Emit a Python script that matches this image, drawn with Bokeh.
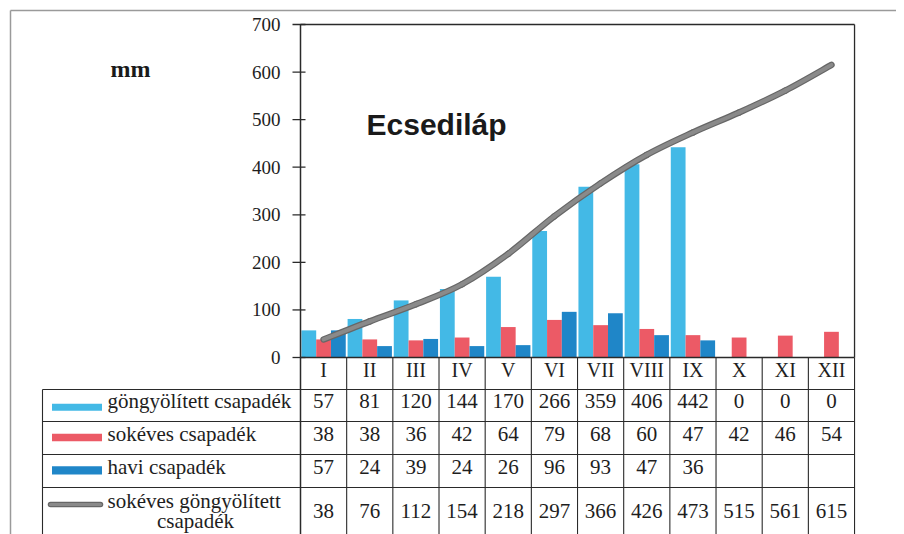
from bokeh.plotting import figure
from bokeh.models import Range1d, ColumnDataSource
from bokeh.core.properties import value
from bokeh.embed import file_html
from bokeh.resources import INLINE

# ---------------- data ----------------
months = ["I", "II", "III", "IV", "V", "VI", "VII", "VIII", "IX", "X", "XI", "XII"]
gongyolitett = [57, 81, 120, 144, 170, 266, 359, 406, 442, 0, 0, 0]
sokeves = [38, 38, 36, 42, 64, 79, 68, 60, 47, 42, 46, 54]
havi = [57, 24, 39, 24, 26, 96, 93, 47, 36]          # X-XII: no data
sokeves_gongy = [38, 76, 112, 154, 218, 297, 366, 426, 473, 515, 561, 615]
y_ticks = [0, 100, 200, 300, 400, 500, 600, 700]
series_names = ["göngyölített csapadék", "sokéves csapadék", "havi csapadék",
                "sokéves göngyölített", "csapadék"]
title_text = "Ecsediláp"
unit_text = "mm"

# ---------------- styles ----------------
C_LIGHT = "#43b9e6"
C_RED = "#ec5a66"
C_DARK = "#1f86c8"
C_LINE = "#8a8a8a"
C_LINE_EDGE = "#676767"
C_GRID = "#2a2a2a"
C_TEXT = "#1e1e1e"
SERIF = value("Liberation Serif")
SANS = value("Liberation Sans")

W, H = 896, 534
OFF = 0
REF_X0, CAT_PX = 300.0, 46.17          # x position of the value axis, width of one month
REF_Y0, UNIT_PX = 357.0, 333.0 / 700   # y position of 0 mm, pixels per mm


def X(px):
    return (px - REF_X0) / CAT_PX


def Y(py):
    return (REF_Y0 - py) / UNIT_PX


p = figure(width=W, height=H,
           x_range=Range1d(X(OFF), X(OFF + W)),
           y_range=Range1d(Y(OFF + H), Y(OFF)),
           output_backend="svg", toolbar_location=None,
           x_axis_type=None, y_axis_type=None, min_border=0)
p.outline_line_color = None
p.background_fill_color = "white"
p.border_fill_color = "white"

n = len(months)
centers = [i + 0.5 for i in range(n)]
BW = 0.32

# outer page frame
p.segment(x0=[X(10), X(10)], y0=[Y(10), Y(10)], x1=[X(910), X(10)], y1=[Y(10), Y(540)],
          line_color="#9a9a9a", line_width=1.5)

# bars
p.vbar(x=[c - BW for c in centers], top=gongyolitett, width=BW, bottom=0,
       fill_color=C_LIGHT, line_color=None)
p.vbar(x=centers, top=sokeves, width=BW, bottom=0, fill_color=C_RED, line_color=None)
p.vbar(x=[c + BW for c in centers[:len(havi)]], top=havi, width=BW, bottom=0,
       fill_color=C_DARK, line_color=None)

# smoothed cumulative line (Bezier segments through the data points)
xs, ys = centers, sokeves_gongy
bx0, by0, bx1, by1, cx0, cy0, cx1, cy1 = [], [], [], [], [], [], [], []
for i in range(n - 1):
    xm, ym = (xs[i - 1], ys[i - 1]) if i > 0 else (xs[i], ys[i])
    xp2, yp2 = (xs[i + 2], ys[i + 2]) if i + 2 < n else (xs[i + 1], ys[i + 1])
    bx0.append(xs[i]); by0.append(ys[i])
    bx1.append(xs[i + 1]); by1.append(ys[i + 1])
    cx0.append(xs[i] + (xs[i + 1] - xm) / 6.0); cy0.append(ys[i] + (ys[i + 1] - ym) / 6.0)
    cx1.append(xs[i + 1] - (xp2 - xs[i]) / 6.0); cy1.append(ys[i + 1] - (yp2 - ys[i]) / 6.0)
bsrc = ColumnDataSource(dict(x0=bx0, y0=by0, x1=bx1, y1=by1, cx0=cx0, cy0=cy0, cx1=cx1, cy1=cy1))
p.bezier(x0="x0", y0="y0", x1="x1", y1="y1", cx0="cx0", cy0="cy0", cx1="cx1", cy1="cy1",
         source=bsrc, line_color=C_LINE_EDGE, line_width=6.5, line_cap="round")
p.bezier(x0="x0", y0="y0", x1="x1", y1="y1", cx0="cx0", cy0="cy0", cx1="cx1", cy1="cy1",
         source=bsrc, line_color=C_LINE, line_width=4, line_cap="round")

# plot frame and axes
top = y_ticks[-1]
p.segment(x0=[0, n], y0=[top, top], x1=[n, n], y1=[top, 0], line_color=C_GRID, line_width=1.3)
p.segment(x0=[0], y0=[top], x1=[0], y1=[Y(540)], line_color=C_GRID, line_width=1.5)
p.segment(x0=[0], y0=[0], x1=[n], y1=[0], line_color=C_GRID, line_width=1.5)

# y ticks
p.segment(x0=[X(292)] * len(y_ticks), y0=y_ticks, x1=[X(305)] * len(y_ticks), y1=y_ticks,
          line_color=C_GRID, line_width=1.3)
p.text(x=[X(280)] * len(y_ticks), y=y_ticks, text=[str(t) for t in y_ticks],
       text_align="right", text_baseline="middle", text_font=SERIF,
       text_font_size="19px", text_color=C_TEXT)

# table grid
row_lines = [389, 421, 454, 487]
p.segment(x0=[X(42)] * len(row_lines), y0=[Y(r) for r in row_lines],
          x1=[n] * len(row_lines), y1=[Y(r) for r in row_lines],
          line_color=C_GRID, line_width=1.1)
p.segment(x0=list(range(1, n + 1)), y0=[0] * n, x1=list(range(1, n + 1)), y1=[Y(540)] * n,
          line_color=C_GRID, line_width=1.1)
p.segment(x0=[X(42)], y0=[Y(389)], x1=[X(42)], y1=[Y(540)], line_color=C_GRID, line_width=1.1)

# month labels
p.text(x=centers, y=[Y(369)] * n, text=months, text_align="center", text_baseline="middle",
       text_font=SERIF, text_font_size="20px", text_color=C_TEXT)

# table values
rows = [(gongyolitett, 400.5), (sokeves, 433.5), (havi, 466.5), (sokeves_gongy, 510.5)]
for vals, py in rows:
    p.text(x=centers[:len(vals)], y=[Y(py)] * len(vals), text=[str(v) for v in vals],
           text_align="center", text_baseline="middle", text_font=SERIF,
           text_font_size="21px", text_color=C_TEXT)

# legend swatches
p.quad(left=[X(51.5)] * 3, right=[X(101.5)] * 3,
       bottom=[Y(410.2), Y(440.7), Y(474)], top=[Y(403.3), Y(433.3), Y(465.8)],
       fill_color=[C_LIGHT, C_RED, C_DARK], line_color=None)
p.segment(x0=[X(50)], y0=[Y(504)], x1=[X(100)], y1=[Y(504)],
          line_color=C_LINE_EDGE, line_width=5.5, line_cap="round")
p.segment(x0=[X(50)], y0=[Y(504)], x1=[X(100)], y1=[Y(504)],
          line_color=C_LINE, line_width=3, line_cap="round")

# legend labels
p.text(x=[X(107)] * 4, y=[Y(400.5), Y(433.5), Y(466.5), Y(500)], text=series_names[:4],
       text_align="left", text_baseline="middle", text_font=SERIF,
       text_font_size="21px", text_color=C_TEXT)
p.text(x=[X(195)], y=[Y(520)], text=[series_names[4]], text_align="center",
       text_baseline="middle", text_font=SERIF, text_font_size="21px", text_color=C_TEXT)

# title and unit
p.text(x=[X(366)], y=[Y(124)], text=[title_text], text_align="left",
       text_baseline="alphabetic", text_font=SANS, text_font_style="bold",
       text_font_size="30px", text_color="#1a1a1a")
p.text(x=[X(130)], y=[Y(68)], text=[unit_text], text_align="center",
       text_baseline="middle", text_font=SERIF, text_font_style="bold",
       text_font_size="24px", text_color="#1a1a1a")

open("out.html", "w").write(file_html(p, INLINE))
